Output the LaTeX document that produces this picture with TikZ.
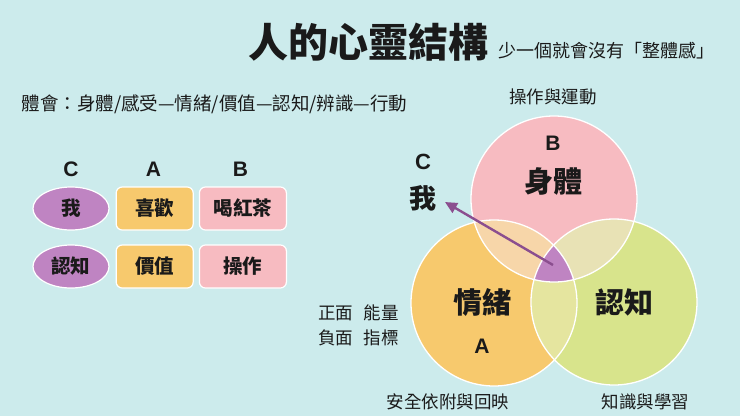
\documentclass[tikz,border=0pt]{standalone}
\usepackage{fontspec}
\setmainfont{Noto Sans CJK TC}
\newfontfamily\latin{Liberation Sans}
\usetikzlibrary{positioning,shapes.geometric,arrows.meta}

\definecolor{bgcyan}{HTML}{CCEBEC}
\definecolor{bodypink}{HTML}{F7BBC1}
\definecolor{feelorange}{HTML}{F7C96D}
\definecolor{mindgreen}{HTML}{D8E48C}
\definecolor{pinkorange}{HTML}{F7D6A9}
\definecolor{pinkgreen}{HTML}{E8E2B5}
\definecolor{orangegreen}{HTML}{E5E59F}
\definecolor{selfpurple}{HTML}{BF84C2}
\definecolor{arrowpurple}{HTML}{8B4E8F}
\definecolor{ink}{HTML}{1A1A1A}

\tikzset{
  cell/.style={draw=white, line width=1.2pt, rounded corners=6pt, minimum height=43pt,
    inner sep=0pt, font=\fontsize{19.5}{19.5}\selectfont\bfseries, text=ink},
  selfcell/.style={cell, ellipse, fill=selfpurple, minimum width=76pt},
  feelcell/.style={cell, fill=feelorange, minimum width=77pt},
  bodycell/.style={cell, fill=bodypink, minimum width=87pt},
  head/.style={font=\latin\fontsize{21}{21}\selectfont\bfseries, text=ink},
  note/.style={font=\fontsize{17.5}{17.5}\selectfont, text=ink},
  big/.style={font=\fontsize{29}{29}\selectfont\bfseries, text=ink},
  ring/.style={draw=white, line width=1.3pt}
}

\begin{document}
\begin{tikzpicture}[x=1pt, y=-1pt]
  \fill[bgcyan] (0,0) rectangle (740,416);
  \useasboundingbox (0,0) rectangle (740,416);

  % title
  \node[font=\fontsize{40}{40}\selectfont\bfseries, text=ink] (title) at (368,42) {人的心靈結構};
  \node[font=\fontsize{18}{18}\selectfont, text=ink, anchor=west] (subtitle) at (495,51) {少一個就會沒有「整體感」};
  \node[note, anchor=west, font=\fontsize{18.5}{18.5}\selectfont] (steps) at (18,104) {體會：身體/感受—情緒/價值—認知/辨識—行動};

  % left table
  \node[selfcell] (me) at (71,208.5) {我};
  \node[feelcell, right=6pt of me] (like) {喜歡};
  \node[bodycell, right=5pt of like] (tea) {喝紅茶};
  \node[selfcell] (know) at (71,266.5) {認知};
  \node[feelcell, right=6pt of know] (value) {價值};
  \node[bodycell, right=5pt of value] (act) {操作};
  \node[head] (hc) at (71,169) {C};
  \node[head] (ha) at (153.5,169) {A};
  \node[head] (hb) at (240.5,169) {B};

  % venn
  \coordinate (cb) at (554,199);
  \coordinate (ca) at (494,303);
  \coordinate (cc) at (614,302);
  \fill[bodypink] (cb) circle[radius=83pt];
  \fill[feelorange] (ca) circle[radius=83pt];
  \fill[mindgreen] (cc) circle[radius=83pt];
  \begin{scope}
    \clip (ca) circle[radius=83pt];
    \fill[pinkorange] (cb) circle[radius=83pt];
    \fill[orangegreen] (cc) circle[radius=83pt];
  \end{scope}
  \begin{scope}
    \clip (cb) circle[radius=83pt];
    \fill[pinkgreen] (cc) circle[radius=83pt];
    \clip (cc) circle[radius=83pt];
    \fill[selfpurple] (ca) circle[radius=83pt];
  \end{scope}
  \draw[ring] (cb) circle[radius=83pt];
  \draw[ring] (ca) circle[radius=83pt];
  \draw[ring] (cc) circle[radius=83pt];

  \node[head] (lb) at (553,143) {B};
  \node[big] (body) at (553,181) {身體};
  \node[big] (feel) at (482,302) {情緒};
  \node[head] (la) at (482,346) {A};
  \node[big] (mind) at (624,302) {認知};
  \node[head, font=\latin\fontsize{22}{22}\selectfont\bfseries] (lc) at (423,162) {C};
  \node[big, font=\fontsize{27}{27}\selectfont\bfseries] (self) at (423,198) {我};

  \coordinate (core) at (553,265);
  \coordinate (tip) at (445,202);
  \draw[arrowpurple, line width=2.4pt, -{Triangle[length=12pt, width=11pt]}] (core) -- (tip);

  \node[note] (move) at (553,97) {操作與運動};
  \node[note] (plus) at (358.5,313) {正面\hspace{11pt}能量};
  \node[note] (minus) at (358.5,338) {負面\hspace{11pt}指標};
  \node[note] (safe) at (448,402) {安全依附與回映};
  \node[note] (learn) at (645.5,402) {知識與學習};
\end{tikzpicture}
\end{document}
